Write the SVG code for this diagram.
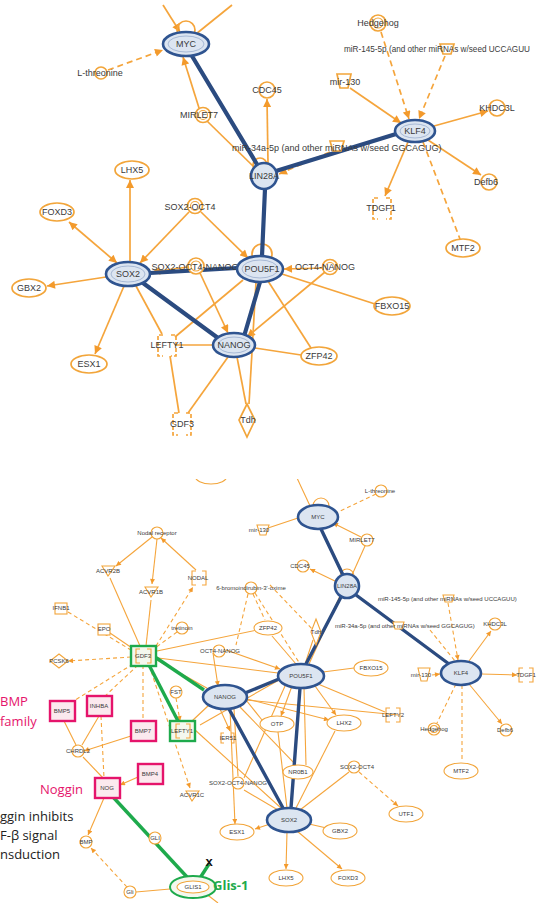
<svg xmlns="http://www.w3.org/2000/svg" width="539" height="903" viewBox="0 0 539 903">
<defs>
<marker id="a" viewBox="0 0 10 10" refX="10" refY="5" markerWidth="9" markerHeight="8" markerUnits="userSpaceOnUse" orient="auto-start-reverse"><path d="M0,0L10,5L0,10z" fill="#F39A2C"/></marker>
<marker id="as" viewBox="0 0 10 10" refX="10" refY="5" markerWidth="6" markerHeight="5" markerUnits="userSpaceOnUse" orient="auto-start-reverse"><path d="M0,0L10,5L0,10z" fill="#F39A2C"/></marker>
<clipPath id="cut"><rect x="0" y="479" width="539" height="424"/></clipPath>
</defs>
<style>
.e{stroke:#F5A53C;stroke-width:1.7;fill:none}
.f{stroke:#F5A53C;stroke-width:1.1;fill:none}
.d{stroke-dasharray:6 4}
.ds{stroke-dasharray:4 3}
.b{stroke:#2B4B80;stroke-width:4.2;fill:none;stroke-linecap:round}
.bs{stroke:#2B4B80;stroke-width:3.4;fill:none;stroke-linecap:round}
.g{stroke:#1EAA4C;stroke-width:3.4;fill:none}
.n{fill:#fff;stroke:#F2A53A;stroke-width:1.7}
.m{fill:#fff;stroke:#F2A53A;stroke-width:1.1}
.bn{fill:#DCE5F1;stroke:#2F5490;stroke-width:2.6}
.bi{fill:none;stroke:#8FA5C8;stroke-width:0.7}
.t{font-family:"Liberation Sans",Arial,sans-serif;font-size:9px;fill:#3a3a3a;text-anchor:middle}
.s{font-family:"Liberation Sans",Arial,sans-serif;font-size:6px;fill:#3a3a3a;text-anchor:middle}
.pk{fill:#FBE9EE;stroke:#E5146B;stroke-width:2.4}
.gb{fill:#F4F8EE;stroke:#1EAA4C;stroke-width:2.4}
.lab{font-family:"Open Sans","Liberation Sans",sans-serif;font-size:13px}
</style>
<rect width="539" height="903" fill="#fff"/>

<!-- ================= TOP PANEL ================= -->
<g id="edges-top">
<path class="e" d="M163,5L180,32" marker-end="url(#a)"/>
<path class="e" d="M196,34L232,5"/>
<path class="e d" d="M108,70L163,50" marker-end="url(#a)"/>
<path class="e" d="M199,108L183,57" marker-end="url(#a)"/>
<path class="e" d="M207,121L255,168"/>
<path class="e" d="M268,163L267,99" marker-end="url(#a)"/>
<path class="e d" d="M330,152L279,174" marker-end="url(#a)"/>
<path class="e d" d="M381,32L409,119" marker-end="url(#a)"/>
<path class="e d" d="M445,56L419,119" marker-end="url(#a)"/>
<path class="e" d="M350,88L401,123" marker-end="url(#a)"/>
<path class="e" d="M434,126L488,111" marker-end="url(#a)"/>
<path class="e" d="M428,140L481,175" marker-end="url(#a)"/>
<path class="e" d="M408,142L385,196" marker-end="url(#a)"/>
<path class="e d" d="M423,142L460,239"/>
<path class="e" d="M130,262L130,180" marker-end="url(#a)"/>
<path class="e" d="M117,263L69,222" marker-start="url(#a)" marker-end="url(#a)"/>
<path class="e" d="M189,212L140,263" marker-end="url(#a)"/>
<path class="e" d="M201,212L248,258" marker-end="url(#a)"/>
<path class="e" d="M106,277L47,286" marker-end="url(#a)"/>
<path class="e" d="M324,268L284,269" marker-end="url(#a)"/>
<path class="e" d="M282,274L375,304"/>
<path class="e" d="M268,281L311,348"/>
<path class="e" d="M255,348L301,355"/>
<path class="e" d="M325,272L247,337" marker-end="url(#a)"/>
<path class="e" d="M200,273L228,333" marker-end="url(#a)"/>
<path class="e" d="M124,286L95,354" marker-end="url(#a)"/>
<path class="e" d="M136,286L162,334"/>
<path class="e" d="M243,280L175,337"/>
<path class="e" d="M175,345L213,345"/>
<path class="e" d="M170,356L179,413"/>
<path class="e" d="M228,357L188,413"/>
<path class="e" d="M237,357L246,404"/>
<path class="e" d="M256,282L249,404"/>
<path class="e" d="M188,267L152,272" marker-end="url(#a)"/>
<circle class="e" cx="186" cy="30" r="9"/>
<circle class="e" cx="260" cy="165" r="7"/>
<circle class="e" cx="262" cy="254" r="10"/>
<path class="b" d="M192,56L258,166"/>
<path class="b" d="M276,171L396,134"/>
<path class="b" d="M265,189L262,256"/>
<path class="b" d="M150,273L237,268"/>
<path class="b" d="M143,283L218,338"/>
<path class="b" d="M260,282L245,333"/>
</g>

<g id="MYC-t"><ellipse class="bn" cx="186" cy="44" rx="23" ry="12"/><ellipse class="bi" cx="186" cy="44" rx="18" ry="8"/><text class="t" x="186" y="47">MYC</text></g>
<g id="Lthr-t"><circle class="n" cx="101" cy="73" r="6"/><text class="t" x="100" y="76">L-threonine</text></g>
<g id="MIRLET7-t"><circle class="n" cx="203" cy="115" r="7.5"/><circle class="m" cx="203" cy="115" r="4.5"/><text class="t" x="199" y="118">MIRLET7</text></g>
<g id="CDC45-t"><circle class="n" cx="267" cy="90" r="8"/><text class="t" x="267" y="93">CDC45</text></g>
<g id="LIN28A-t"><ellipse class="bn" cx="264" cy="176" rx="13" ry="13"/><text class="t" x="264" y="179">LIN28A</text></g>
<g id="KLF4-t"><ellipse class="bn" cx="415" cy="131" rx="20" ry="11"/><ellipse class="bi" cx="415" cy="131" rx="15" ry="7"/><text class="t" x="415" y="134">KLF4</text></g>
<g id="Hedgehog-t"><circle class="n" cx="378" cy="23" r="8"/><circle class="m" cx="378" cy="23" r="5"/><text class="t" x="378" y="26">Hedgehog</text></g>
<g id="miR145-t"><path class="n" d="M440,44H454L451,54H443Z"/><text class="t" x="344" y="52" style="text-anchor:start;font-size:8.6px" textLength="186" lengthAdjust="spacingAndGlyphs">miR-145-5p (and other miRNAs w/seed UCCAGUU</text></g>
<g id="mir130-t"><path class="n" d="M337,74H351L348,88H340Z"/><text class="t" x="345" y="85">mir-130</text></g>
<g id="KHDC3L-t"><circle class="n" cx="497" cy="108" r="8"/><text class="t" x="497" y="111">KHDC3L</text></g>
<g id="miR34a-t"><path class="n" d="M330,141H344L341,151H333Z"/><text class="t" x="232" y="151" style="text-anchor:start">miR-34a-5p (and other miRNAs w/seed GGCAGUG)</text></g>
<g id="Defb6-t"><circle class="n" cx="489" cy="182" r="8"/><text class="t" x="486" y="185">Defb6</text></g>
<g id="TDGF1-t"><path class="e" d="M378,198h-5v21h5M386,198h5v21h-5" style="stroke-dasharray:4 2"/><text class="t" x="381" y="211">TDGF1</text></g>
<g id="MTF2-t"><ellipse class="n" cx="463" cy="248" rx="17" ry="9"/><text class="t" x="463" y="251">MTF2</text></g>
<g id="LHX5-t"><ellipse class="n" cx="132" cy="170" rx="17" ry="9"/><text class="t" x="132" y="173">LHX5</text></g>
<g id="FOXD3-t"><ellipse class="n" cx="57" cy="212" rx="17" ry="9"/><text class="t" x="57" y="215">FOXD3</text></g>
<g id="SOX2OCT4-t"><circle class="n" cx="195" cy="206" r="7.5"/><circle class="m" cx="195" cy="206" r="4.5"/><text class="t" x="190" y="210">SOX2-OCT4</text></g>
<g id="SOX2-t"><ellipse class="bn" cx="128" cy="274" rx="22" ry="12"/><ellipse class="bi" cx="128" cy="274" rx="17" ry="8"/><text class="t" x="128" y="277">SOX2</text></g>
<g id="SON-t"><circle class="n" cx="196" cy="266" r="8"/><circle class="m" cx="196" cy="266" r="5"/><text class="t" x="195" y="270">SOX2-OCT4-NANOG</text></g>
<g id="POU5F1-t"><ellipse class="bn" cx="260" cy="269" rx="23" ry="13"/><ellipse class="bi" cx="260" cy="269" rx="18" ry="9"/><text class="t" x="262" y="272">POU5F1</text></g>
<g id="ON-t"><circle class="n" cx="330" cy="267" r="7.5"/><circle class="m" cx="330" cy="267" r="4.5"/><text class="t" x="325" y="270">OCT4-NANOG</text></g>
<g id="GBX2-t"><ellipse class="n" cx="29" cy="288" rx="17" ry="9"/><text class="t" x="29" y="291">GBX2</text></g>
<g id="LEFTY1-t"><path class="e" d="M163,335h-5v21h5M171,335h5v21h-5" style="stroke-dasharray:4 2"/><text class="t" x="167" y="348">LEFTY1</text></g>
<g id="NANOG-t"><ellipse class="bn" cx="234" cy="345" rx="21" ry="12"/><ellipse class="bi" cx="234" cy="345" rx="16" ry="8"/><text class="t" x="234" y="348">NANOG</text></g>
<g id="ESX1-t"><ellipse class="n" cx="89" cy="364" rx="18" ry="9"/><text class="t" x="89" y="367">ESX1</text></g>
<g id="ZFP42-t"><ellipse class="n" cx="319" cy="356" rx="18" ry="9"/><text class="t" x="319" y="359">ZFP42</text></g>
<g id="FBXO15-t"><ellipse class="n" cx="392" cy="306" rx="18" ry="9"/><text class="t" x="392" y="309">FBXO15</text></g>
<g id="GDF3-t"><path class="e" d="M178,413h-5v22h5M186,413h5v22h-5" style="stroke-dasharray:4 2"/><text class="t" x="182" y="427">GDF3</text></g>
<g id="Tdh-t"><path class="n" d="M247,404L255,420L247,437L239,420Z"/><text class="t" x="248" y="423">Tdh</text></g>

<!-- ================= BOTTOM PANEL ================= -->
<g id="edges-bottom" clip-path="url(#cut)">
<path class="f" d="M297,478L311,508"/>
<path class="f" d="M268,528L298,518"/>
<path class="f ds" d="M376,494L336,513"/>
<path class="f" d="M361,537L333,523" marker-end="url(#as)"/>
<path class="f" d="M365,546L352,575"/>
<path class="f" d="M337,582L310,569" marker-end="url(#as)"/>
<path class="f" d="M152,537L116,566" marker-end="url(#as)"/>
<path class="f" d="M157,539L152,584" marker-end="url(#as)"/>
<path class="f" d="M196,570L161,538" marker-end="url(#as)"/>
<path class="f" d="M110,578L140,646"/>
<path class="f" d="M151,600L146,646"/>
<path class="f ds" d="M156,646L193,587" marker-end="url(#as)"/>
<path class="f ds" d="M68,612L131,650"/>
<path class="f" d="M110,633L132,648"/>
<path class="f ds" d="M177,632L155,648"/>
<path class="f ds" d="M131,657L68,661" marker-end="url(#as)"/>
<path class="f ds" d="M133,664L72,702"/>
<path class="f ds" d="M138,665L104,697"/>
<path class="f ds" d="M143,665L143,721"/>
<path class="f ds" d="M149,665L190,788" marker-end="url(#as)"/>
<path class="f ds" d="M176,698L180,721" marker-end="url(#as)"/>
<path class="f ds" d="M248,594L236,645"/>
<path class="f ds" d="M253,594L265,620"/>
<path class="f ds" d="M255,593L300,664"/>
<path class="f" d="M157,651L262,629"/>
<path class="f" d="M158,658L278,673"/>
<path class="f" d="M157,660L212,691"/>
<path class="f" d="M64,721L76,745"/>
<path class="f" d="M99,716L82,745"/>
<path class="f" d="M131,736L84,751" marker-end="url(#as)"/>
<path class="f" d="M83,757L104,779"/>
<path class="f" d="M138,777L120,785" marker-end="url(#as)"/>
<path class="f ds" d="M101,716L104,778"/>
<path class="f" d="M104,798L88,835" marker-end="url(#as)"/>
<path class="f ds" d="M127,887L91,848" marker-end="url(#as)"/>
<path class="f" d="M136,892L170,889"/>
<path class="f" d="M205,893L218,903"/>
<path class="f" d="M213,653L218,686" marker-end="url(#as)"/>
<path class="f" d="M226,650L280,669" marker-end="url(#as)"/>
<path class="f" d="M246,700L262,720"/>
<path class="f" d="M247,699L329,720" marker-end="url(#as)"/>
<path class="f" d="M240,707L296,765"/>
<path class="f" d="M234,709L238,776"/>
<path class="f" d="M209,705L192,721"/>
<path class="f" d="M220,709L230,731" marker-end="url(#as)"/>
<path class="f" d="M230,709L235,824" marker-end="url(#as)"/>
<path class="f" d="M246,700L398,715"/>
<path class="f" d="M194,729L281,808"/>
<path class="f" d="M323,672L354,668"/>
<path class="f" d="M318,684L385,712"/>
<path class="f" d="M315,686L336,715" marker-end="url(#as)"/>
<path class="f" d="M292,686L281,716" marker-end="url(#as)"/>
<path class="f" d="M279,680L200,725"/>
<path class="f" d="M285,686L244,778"/>
<path class="f" d="M304,688L306,765"/>
<path class="f" d="M296,664L272,636"/>
<path class="f" d="M305,664L313,640"/>
<path class="f" d="M278,732L287,808"/>
<path class="f" d="M335,731L296,808"/>
<path class="f" d="M244,790L278,810"/>
<path class="f" d="M349,772L300,810"/>
<path class="f ds" d="M359,772L398,806" marker-end="url(#as)"/>
<path class="f" d="M309,824L331,829" marker-end="url(#as)"/>
<path class="f" d="M287,832L286,869" marker-end="url(#as)"/>
<path class="f" d="M297,831L342,869" marker-end="url(#as)"/>
<path class="f" d="M270,824L255,829" marker-end="url(#as)"/>
<path class="f ds" d="M270,585L315,632"/>
<path class="f" d="M340,596L309,664"/>
<path class="f ds" d="M448,603L458,660" marker-end="url(#as)"/>
<path class="f ds" d="M430,630L455,661"/>
<path class="f" d="M469,661L491,631" marker-end="url(#as)"/>
<path class="f" d="M432,675L440,674" marker-end="url(#as)"/>
<path class="f" d="M481,674L517,675" marker-end="url(#as)"/>
<path class="f ds" d="M456,684L437,723"/>
<path class="f" d="M469,684L502,724" marker-end="url(#as)"/>
<path class="f ds" d="M462,685L462,762"/>
<circle class="f" cx="321" cy="506" r="8"/>
<circle class="f" cx="347" cy="576" r="7"/>
<path class="bs" d="M321,529L343,575"/>
<path class="bs" d="M356,595L449,664"/>
<path class="bs" d="M341,597L306,664"/>
<path class="bs" d="M245,693L279,679"/>
<path class="bs" d="M229,709L283,808"/>
<path class="bs" d="M300,688L291,808"/>
<path class="g" d="M155,657L204,690"/>
<path class="g" d="M149,665L178,721"/>
<path class="g" d="M113,797L187,877"/>
<path class="g" d="M200,878L209,864"/>
</g>

<g id="topcut-b" clip-path="url(#cut)"><ellipse class="m" cx="211" cy="476" rx="16" ry="8"/></g>
<g id="MYC-b"><ellipse class="bn" cx="318" cy="517" rx="20" ry="12"/><text class="s" x="318" y="519">MYC</text></g>
<g id="Lthr-b"><circle class="m" cx="381" cy="491" r="6"/><text class="s" x="380" y="493">L-threonine</text></g>
<g id="MIRLET7-b"><circle class="m" cx="367" cy="540" r="6"/><text class="s" x="362" y="542">MIRLET7</text></g>
<g id="mir130top-b"><path class="m" d="M257,525H269L266,535H260Z"/><text class="s" x="259" y="532">mir-130</text></g>
<g id="CDC45-b"><circle class="m" cx="303" cy="566" r="6"/><text class="s" x="300" y="568">CDC45</text></g>
<g id="LIN28A-b"><ellipse class="bn" cx="347" cy="586" rx="12" ry="12"/><text class="s" x="347" y="588">LIN28A</text></g>
<g id="BIO-b"><circle class="m" cx="251" cy="588" r="6"/><text class="s" x="251" y="590">6-bromoindirubin-3'-oxime</text></g>
<g id="miR145-b"><path class="m" d="M443,595H454L452,602H445Z"/><text class="s" x="378" y="601" style="text-anchor:start">miR-145-5p (and other miRNAs w/seed UCCAGUU)</text></g>
<g id="miR34a-b"><path class="m" d="M393,622H404L402,629H395Z"/><text class="s" x="335" y="628" style="text-anchor:start">miR-34a-5p (and other miRNAs w/seed GGCAGUG)</text></g>
<g id="Nodalr-b"><circle class="m" cx="157" cy="533" r="6"/><text class="s" x="157" y="535">Nodal receptor</text></g>
<g id="ACVR2B-b"><path class="m" d="M102,566H115L108,576Z"/><text class="s" x="108" y="573">ACVR2B</text></g>
<g id="ACVR1B-b"><path class="m" d="M145,587H158L151,597Z"/><text class="s" x="151" y="594">ACVR1B</text></g>
<g id="NODAL-b"><path class="f" d="M196,571h-4v14h4M202,571h4v14h-4"/><text class="s" x="198" y="580">NODAL</text></g>
<g id="IFNB1-b"><rect class="m" x="55" y="603" width="12" height="11"/><text class="s" x="61" y="610">IFNB1</text></g>
<g id="EPO-b"><rect class="m" x="98" y="624" width="12" height="11"/><text class="s" x="104" y="631">EPO</text></g>
<g id="tretinoin-b"><circle class="m" cx="182" cy="628" r="6"/><text class="s" x="182" y="630">tretinoin</text></g>
<g id="ZFP42-b"><ellipse class="m" cx="268" cy="628" rx="14" ry="7"/><text class="s" x="268" y="630">ZFP42</text></g>
<g id="Tdh-b"><path class="m" d="M316,619L321,632L316,645L311,632Z"/><text class="s" x="316" y="634">Tdh</text></g>
<g id="PCSK6-b"><path class="m" d="M59,654L68,661L59,668L50,661Z"/><text class="s" x="59" y="663">PCSK6</text></g>
<g id="GDF3-b"><rect class="gb" x="131" y="646" width="25" height="20"/><path class="f" d="M140,649h-4v14h4M147,649h4v14h-4"/><text class="s" x="143" y="658">GDF3</text></g>
<g id="ON-b"><circle class="m" cx="219" cy="651" r="6"/><text class="s" x="220" y="653">OCT4-NANOG</text></g>
<g id="POU5F1-b"><ellipse class="bn" cx="301" cy="676" rx="23" ry="12"/><text class="s" x="301" y="678">POU5F1</text></g>
<g id="FBXO15-b"><ellipse class="m" cx="371" cy="668" rx="17" ry="8"/><text class="s" x="371" y="670">FBXO15</text></g>
<g id="KHDC3L-b"><circle class="m" cx="495" cy="624" r="6"/><text class="s" x="495" y="626">KHDC3L</text></g>
<g id="KLF4-b"><ellipse class="bn" cx="461" cy="673" rx="20" ry="12"/><text class="s" x="461" y="675">KLF4</text></g>
<g id="mir130-b"><path class="m" d="M418,668H430L427,681H421Z"/><text class="s" x="421" y="677">mir-130</text></g>
<g id="TDGF1-b"><path class="f" d="M523,668h-4v14h4M529,668h4v14h-4"/><text class="s" x="526" y="677">TDGF1</text></g>
<g id="NANOG-b"><ellipse class="bn" cx="225" cy="697" rx="22" ry="12"/><text class="s" x="225" y="699">NANOG</text></g>
<g id="FST-b"><circle class="m" cx="176" cy="692" r="6"/><text class="s" x="176" y="694">FST</text></g>
<g id="BMP5-b"><rect class="pk" x="50" y="701" width="25" height="20"/><text class="s" x="62" y="713">BMP5</text></g>
<g id="INHBA-b"><rect class="pk" x="87" y="696" width="25" height="20"/><text class="s" x="99" y="708">INHBA</text></g>
<g id="BMP7-b"><rect class="pk" x="131" y="721" width="25" height="20"/><text class="s" x="143" y="733">BMP7</text></g>
<g id="LEFTY1-b"><rect class="gb" x="170" y="721" width="25" height="20"/><path class="f" d="M180,724h-4v14h4M186,724h4v14h-4"/><text class="s" x="182" y="733">LEFTY1</text></g>
<g id="IER5-b"><path class="f" d="M224,733h-3v10h3M231,733h3v10h-3"/><text class="s" x="228" y="740">IER51</text></g>
<g id="OTP-b"><ellipse class="m" cx="277" cy="724" rx="17" ry="8"/><text class="s" x="277" y="726">OTP</text></g>
<g id="LHX2-b"><ellipse class="m" cx="344" cy="723" rx="17" ry="8"/><text class="s" x="344" y="725">LHX2</text></g>
<g id="LEFTY2-b"><path class="f" d="M390,708h-4v14h4M396,708h4v14h-4"/><text class="s" x="393" y="717">LEFTY2</text></g>
<g id="Hedgehog-b"><circle class="m" cx="434" cy="729" r="6"/><circle class="m" cx="434" cy="729" r="3.5"/><text class="s" x="434" y="731">Hedgehog</text></g>
<g id="Defb6-b"><circle class="m" cx="506" cy="730" r="6"/><text class="s" x="505" y="732">Defb6</text></g>
<g id="CHRDL2-b"><circle class="m" cx="78" cy="751" r="6"/><text class="s" x="78" y="753">CHRDL2</text></g>
<g id="MTF2-b"><ellipse class="m" cx="461" cy="771" rx="17" ry="8"/><text class="s" x="461" y="773">MTF2</text></g>
<g id="BMP4-b"><rect class="pk" x="138" y="764" width="25" height="20"/><text class="s" x="150" y="776">BMP4</text></g>
<g id="NOG-b"><rect class="pk" x="95" y="778" width="25" height="20"/><text class="s" x="107" y="790">NOG</text></g>
<g id="ACVR1C-b"><path class="m" d="M186,791H199L192,801Z"/><text class="s" x="192" y="797">ACVR1C</text></g>
<g id="SON-b"><circle class="m" cx="238" cy="783" r="6"/><text class="s" x="238" y="785">SOX2-OCT4-NANOG</text></g>
<g id="NR0B1-b"><ellipse class="m" cx="298" cy="772" rx="15" ry="7"/><text class="s" x="298" y="774">NR0B1</text></g>
<g id="SOX2OCT4-b"><circle class="m" cx="354" cy="767" r="6"/><text class="s" x="357" y="769">SOX2-OCT4</text></g>
<g id="UTF1-b"><ellipse class="m" cx="406" cy="814" rx="17" ry="8"/><text class="s" x="406" y="816">UTF1</text></g>
<g id="SOX2-b"><ellipse class="bn" cx="289" cy="820" rx="22" ry="12"/><text class="s" x="289" y="822">SOX2</text></g>
<g id="GBX2-b"><ellipse class="m" cx="340" cy="831" rx="17" ry="8"/><text class="s" x="340" y="833">GBX2</text></g>
<g id="ESX1-b"><ellipse class="m" cx="237" cy="832" rx="17" ry="8"/><text class="s" x="237" y="834">ESX1</text></g>
<g id="LHX5-b"><ellipse class="m" cx="286" cy="878" rx="17" ry="8"/><text class="s" x="286" y="880">LHX5</text></g>
<g id="FOXD3-b"><ellipse class="m" cx="348" cy="878" rx="17" ry="8"/><text class="s" x="348" y="880">FOXD3</text></g>
<g id="BMP-b"><circle class="m" cx="86" cy="842" r="6"/><text class="s" x="86" y="844">BMP</text></g>
<g id="GLI-b"><circle class="m" cx="155" cy="838" r="6"/><text class="s" x="155" y="840">GLI</text></g>
<g id="Gli-b"><circle class="m" cx="130" cy="892" r="6"/><text class="s" x="130" y="894">Gli</text></g>
<g id="GLIS1-b"><ellipse fill="#F4F8EE" stroke="#1EAA4C" stroke-width="2" cx="193" cy="887" rx="23" ry="11"/><ellipse class="m" cx="193" cy="887" rx="16" ry="6"/><text class="s" x="193" y="889">GLIS1</text></g>

<g id="annotations">
<text x="0" y="706" class="lab" fill="#E5146B">BMP</text>
<text x="0" y="726" class="lab" fill="#E5146B">family</text>
<text x="40" y="794" class="lab" fill="#E5146B">Noggin</text>
<text x="0" y="821" class="lab" fill="#222">ggin inhibits</text>
<text x="0" y="840" class="lab" fill="#222">F-β signal</text>
<text x="0" y="859" class="lab" fill="#222">nsduction</text>
<text x="213" y="890" class="lab" fill="#1EAA4C" font-weight="bold">Glis-1</text>
<text x="209" y="866" font-family="Liberation Sans,sans-serif" font-size="13" font-weight="bold" text-anchor="middle" fill="#111">x</text>
</g>
</svg>
